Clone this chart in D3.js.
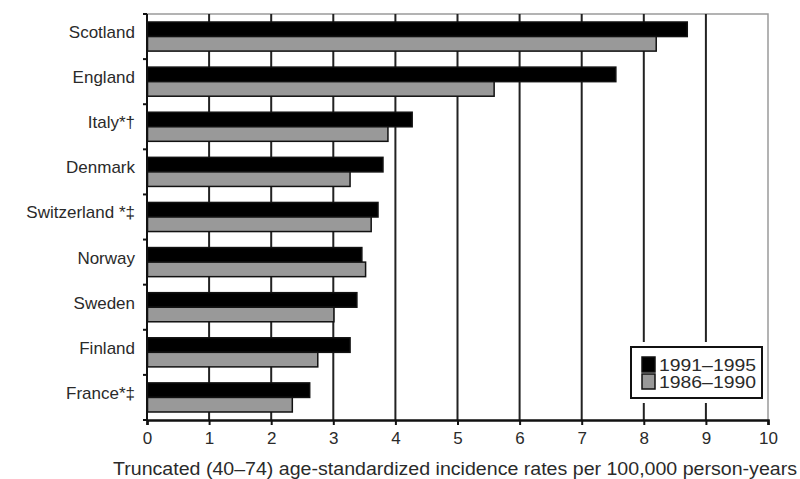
<!DOCTYPE html>
<html>
<head>
<meta charset="utf-8">
<script src="https://cdn.jsdelivr.net/npm/d3@7"></script>
<style>
  body { margin: 0; background: #fff; }
  text { font-family: "Liberation Sans", Arial, sans-serif; fill: #2a2a2a; }
</style>
</head>
<body>
<svg id="chart" width="800" height="479"></svg>
<script>
// data
var countries = ["Scotland", "England", "Italy*†", "Denmark", "Switzerland *‡",
                 "Norway", "Sweden", "Finland", "France*‡"];
var rates1991 = [8.70, 7.55, 4.27, 3.80, 3.72, 3.46, 3.38, 3.27, 2.62];
var rates1986 = [8.20, 5.59, 3.88, 3.27, 3.61, 3.52, 3.01, 2.75, 2.34];
var periods = ["1991–1995", "1986–1990"];
var xTicks = [0, 1, 2, 3, 4, 5, 6, 7, 8, 9, 10];

var svg = d3.select("#chart");
var margin = { top: 14, left: 147, right: 32, bottom: 59 };
var width = 800 - margin.left - margin.right,
    height = 479 - margin.top - margin.bottom;

var g = svg.append("g")
  .attr("transform", "translate(" + margin.left + "," + margin.top + ")");

var x = d3.scaleLinear().domain([0, 10]).range([0, width]);
var y = d3.scaleBand().domain(countries).range([0, height]);
var inner = d3.scaleBand().domain(periods).range([0, y.bandwidth()])
  .paddingOuter(0.55).paddingInner(0);

var colors = { "1991–1995": "#000", "1986–1990": "#999" };

// plot frame (top + right in grey)
g.append("path")
  .attr("d", "M0,0H" + x(10) + "V" + height)
  .attr("fill", "none").attr("stroke", "#9a9a9a").attr("stroke-width", 1.5);

// vertical gridlines
g.selectAll(".grid").data(xTicks.filter(function (d) { return d > 0 && d < 10; }))
  .enter().append("line")
  .attr("class", "grid")
  .attr("x1", x).attr("x2", x)
  .attr("y1", 0).attr("y2", height)
  .attr("stroke", "#222").attr("stroke-width", 2);

// bars
var rows = countries.map(function (c, i) {
  return { name: c, values: [
    { period: periods[0], v: rates1991[i] },
    { period: periods[1], v: rates1986[i] }
  ] };
});

var group = g.selectAll(".row").data(rows).enter().append("g")
  .attr("class", "row")
  .attr("transform", function (d) { return "translate(0," + y(d.name) + ")"; });

group.selectAll("rect").data(function (d) { return d.values; })
  .enter().append("rect")
  .attr("x", 0.5)
  .attr("y", function (d) { return inner(d.period); })
  .attr("width", function (d) { return x(d.v) - 0.5; })
  .attr("height", inner.bandwidth())
  .attr("fill", function (d) { return colors[d.period]; })
  .attr("stroke", "#111").attr("stroke-width", 1.5);

// axes
var xAxis = g.append("g")
  .attr("transform", "translate(0," + height + ")")
  .call(d3.axisBottom(x).tickValues(xTicks).tickSize(5).tickPadding(7));
xAxis.select(".domain").attr("stroke", "#111").attr("stroke-width", 2.5);
xAxis.selectAll(".tick line").attr("stroke", "#111").attr("stroke-width", 2);
xAxis.selectAll(".tick text")
  .style("font-family", "'Liberation Sans', Arial, sans-serif")
  .style("font-size", "17px").attr("fill", "#2a2a2a");

// left axis: ticks sit on band boundaries
var yEdges = countries.map(function (c) { return y(c); }).concat([height]);
g.append("line").attr("x1", 0).attr("x2", 0).attr("y1", 0).attr("y2", height)
  .attr("stroke", "#111").attr("stroke-width", 2);
g.selectAll(".ytick").data(yEdges).enter().append("line")
  .attr("class", "ytick")
  .attr("x1", -4).attr("x2", 0)
  .attr("y1", function (d) { return d; }).attr("y2", function (d) { return d; })
  .attr("stroke", "#111").attr("stroke-width", 2);

g.selectAll(".ylabel").data(countries).enter().append("text")
  .attr("class", "ylabel")
  .attr("x", -12)
  .attr("y", function (d) { return y(d) + y.bandwidth() / 2 - 4.5; })
  .attr("dy", "0.35em")
  .attr("text-anchor", "end")
  .style("font-size", "17px")
  .text(function (d) { return d; });

// axis title
svg.append("text")
  .attr("x", 455).attr("y", 475)
  .attr("text-anchor", "middle")
  .attr("textLength", 684).attr("lengthAdjust", "spacingAndGlyphs")
  .style("font-size", "17.5px")
  .text("Truncated (40–74) age-standardized incidence rates per 100,000 person-years");

// legend
var legend = svg.append("g").attr("transform", "translate(631,347)");
legend.append("rect").attr("x", -4).attr("y", -5).attr("width", 139).attr("height", 61)
  .attr("fill", "#fff");
legend.append("rect").attr("x", 0).attr("y", 0).attr("width", 131).attr("height", 51)
  .attr("fill", "#fff").attr("stroke", "#111").attr("stroke-width", 2);
var li = legend.selectAll(".li").data(periods).enter().append("g")
  .attr("class", "li")
  .attr("transform", function (d, i) { return "translate(11," + (10 + i * 17) + ")"; });
li.append("rect").attr("width", 13).attr("height", 15)
  .attr("fill", function (d) { return colors[d]; })
  .attr("stroke", "#111").attr("stroke-width", 1.5);
li.append("text").attr("x", 17).attr("y", 8).attr("dy", "0.35em")
  .attr("textLength", 97).attr("lengthAdjust", "spacingAndGlyphs")
  .style("font-size", "16.5px")
  .text(function (d) { return d; });
</script>
</body>
</html>
